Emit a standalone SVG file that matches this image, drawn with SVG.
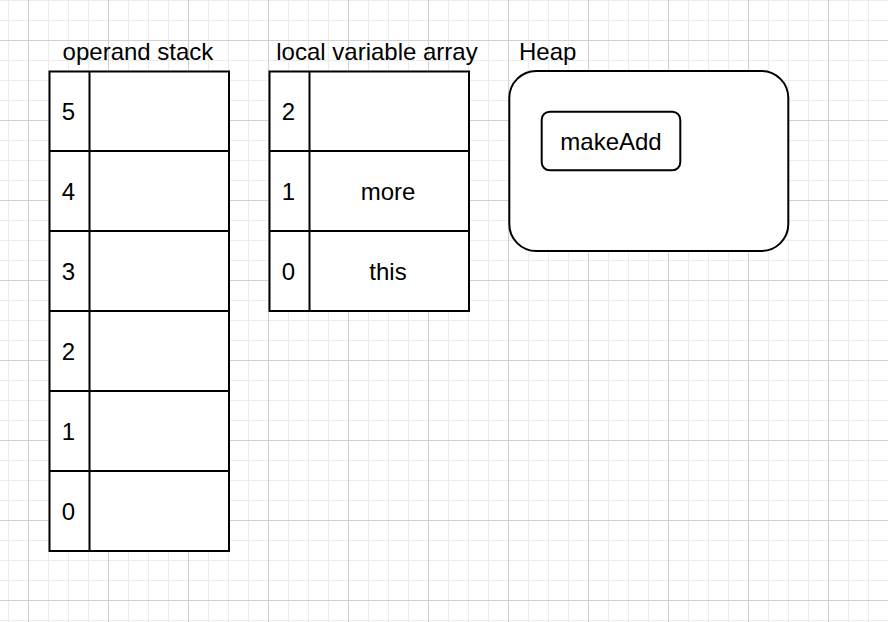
<svg xmlns="http://www.w3.org/2000/svg" width="888" height="622" viewBox="0 0 888 622">
  <defs>
    <pattern id="minor" x="8" y="0" width="20" height="20" patternUnits="userSpaceOnUse">
      <path d="M0.5 0V20M0 0.5H20" fill="none" stroke="#ececec" stroke-width="1.2"/>
    </pattern>
    <pattern id="major" x="28" y="40" width="80" height="80" patternUnits="userSpaceOnUse">
      <path d="M0.5 0V80M0 0.5H80" fill="none" stroke="#d0d0d0" stroke-width="1"/>
    </pattern>
  </defs>
  <style>
    .box { fill: #ffffff; stroke: #000000; stroke-width: 2; }
    .line { fill: none; stroke: #000000; stroke-width: 2; }
    .t { font-family: "Liberation Sans", Arial, Helvetica, sans-serif; font-size: 24px; fill: #000000; }
    .c { text-anchor: middle; }
  </style>
  <rect x="0" y="0" width="888" height="622" fill="#ffffff"/>
  <rect x="0" y="0" width="888" height="622" fill="url(#minor)"/>
  <rect x="0" y="0" width="888" height="622" fill="url(#major)"/>

  <g id="operand-stack">
    <text class="t c" x="138" y="60">operand stack</text>
    <rect class="box" x="49.5" y="71.5" width="179.5" height="479.5"/>
    <path class="line" d="M89.5 71.5V551M49.5 151H229M49.5 231H229M49.5 311H229M49.5 391H229M49.5 471H229"/>
    <text class="t c" x="68.5" y="120">5</text>
    <text class="t c" x="68.5" y="200">4</text>
    <text class="t c" x="68.5" y="280">3</text>
    <text class="t c" x="68.5" y="360">2</text>
    <text class="t c" x="68.5" y="440">1</text>
    <text class="t c" x="68.5" y="520">0</text>
  </g>

  <g id="local-variable-array">
    <text class="t c" x="377" y="60">local variable array</text>
    <rect class="box" x="269.5" y="71.5" width="199.5" height="239.5"/>
    <path class="line" d="M309.5 71.5V311M269.5 151H469M269.5 231H469"/>
    <text class="t c" x="288.5" y="120">2</text>
    <text class="t c" x="288.5" y="200">1</text>
    <text class="t c" x="288.5" y="280">0</text>
    <text class="t c" x="388" y="200">more</text>
    <text class="t c" x="388" y="280">this</text>
  </g>

  <g id="heap">
    <text class="t" x="519" y="60">Heap</text>
    <rect class="box" x="509.3" y="71" width="279" height="180" rx="27" ry="27"/>
  </g>

  <g id="makeAdd">
    <rect class="box" x="541.7" y="111.7" width="138.6" height="58.6" rx="8" ry="8"/>
    <text class="t c" x="611" y="150">makeAdd</text>
  </g>

  <g id="connectors"></g>
</svg>
